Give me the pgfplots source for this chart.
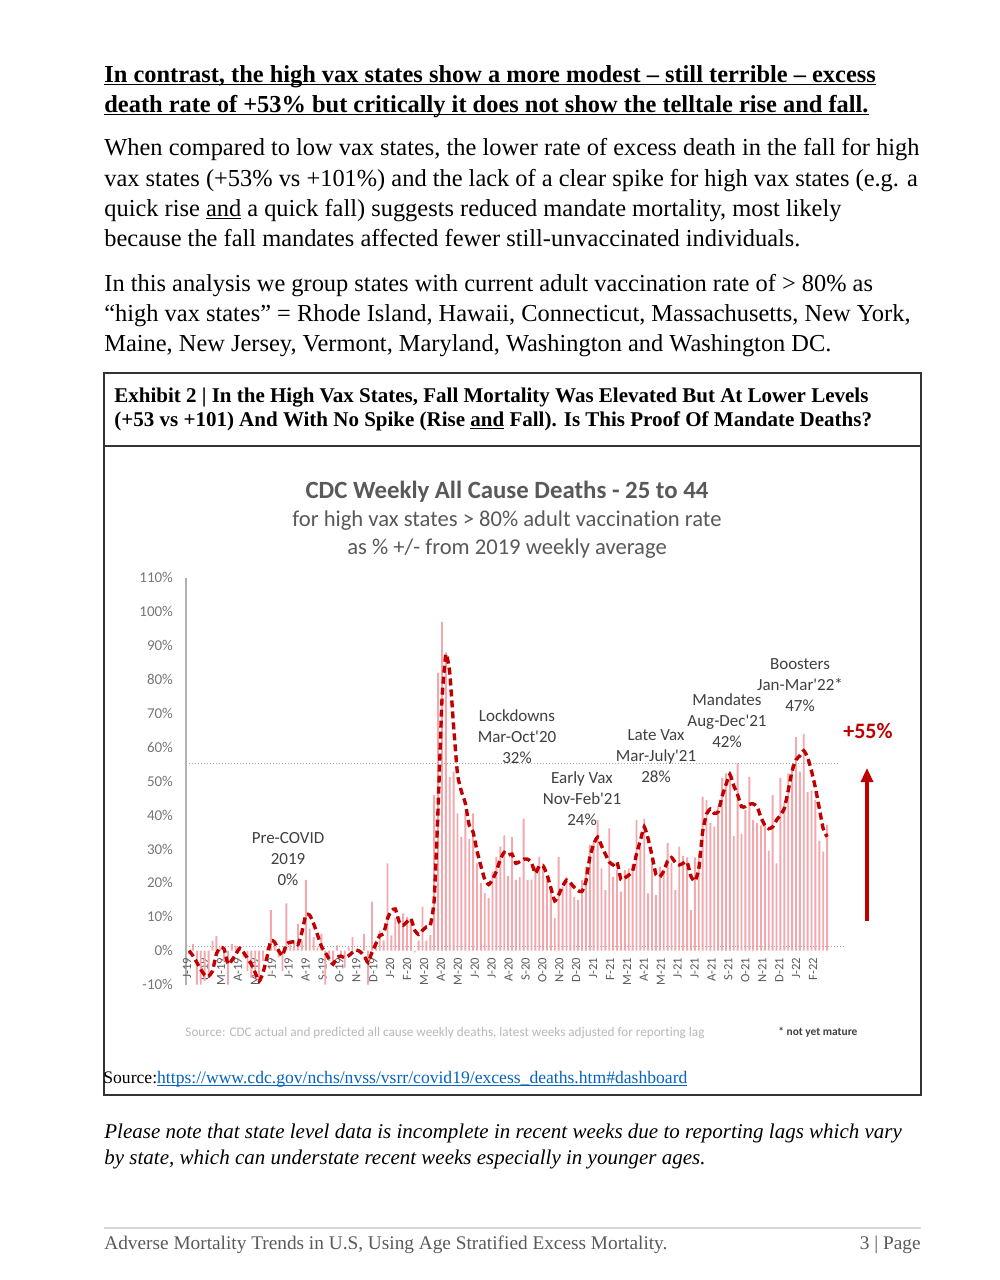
\documentclass[border=0pt]{standalone}
\usepackage{fontspec}
\setmainfont{Liberation Serif}
\newfontfamily\calib[Ligatures=CommonOff]{Carlito}
\newcommand{\uline}[1]{\begingroup\setbox0=\hbox{#1}\rlap{\rule[-0.14em]{\wd0}{0.055em}}\box0\endgroup}
\usepackage{pgfplots}
\usepackage{pgfplotstable}
\pgfplotsset{compat=1.18}
\usetikzlibrary{arrows.meta}
\definecolor{barpink}{RGB}{243,168,174}
\definecolor{darkred}{RGB}{192,0,0}
\definecolor{annot}{RGB}{64,64,64}
\definecolor{ctitle}{RGB}{89,89,89}
\definecolor{tickgray}{RGB}{118,118,118}
\definecolor{linkblue}{RGB}{5,99,193}
\definecolor{srcgray}{RGB}{185,185,185}
\definecolor{footgray}{RGB}{90,90,90}
\pgfplotstableread{
i bar ma
0 -1 0
1 2 -1.5
2 -10 -3.5
3 -10 -5.5
4 -9 -7.2
5 -8 -7.5
6 3 -6
7 4.3 -1
8 1 1
9 -3 0.5
10 -10 -4
11 2 -2.8
12 1.5 -1
13 1 0.7
14 -2 -0.5
15 -6 -2.2
16 -8 -4
17 -8 -6.5
18 -9 -9
19 -3 -6.5
20 1 -2
21 12 3
22 2 2.5
23 -2 0
24 -6 -1.5
25 14 2
26 3 2.5
27 3 2.6
28 8 1.8
29 3 5.5
30 20.9 10.5
31 6.5 10.5
32 4 8
33 1 4.7
34 5 1.3
35 -10 -0.5
36 -3 -2.5
37 -4 -4
38 1.6 -2
39 -2 -1.6
40 -5 -2.1
41 1 -1.5
42 4 -0.5
43 0.5 0.2
44 -1 -0.3
45 5 -1.5
46 -10 -3.5
47 14.5 -0.5
48 3 2
49 6 4.5
50 3 5
51 25.8 9.5
52 4.5 11.8
53 9.7 12.3
54 8.5 8.5
55 11 7.5
56 10 8.5
57 9.5 9.5
58 -0.5 6
59 3 4.8
60 13 6
61 3 7
62 4.6 7.5
63 46 15
64 82 42
65 97 74
66 88 87.5
67 51.3 82
68 52.8 66
69 40.5 52
70 33.6 47
71 40.5 43.5
72 33 37
73 40.5 35
74 25.8 29.5
75 20 25
76 17 21
77 15.5 19.5
78 23.3 21
79 27.7 23.5
80 30.7 27
81 34 29
82 22 28.2
83 33.6 28.5
84 20.9 25.8
85 21.8 26.3
86 39 27
87 20.9 27
88 21 26
89 24.8 22.8
90 27.7 25
91 25.8 25
92 21.8 22.5
93 18.9 18.5
94 9.6 14.7
95 27.7 16.5
96 18.9 19
97 21.8 20.8
98 19.9 20
99 15.9 18.7
100 15 17.7
101 20.9 17.5
102 24.8 20.5
103 31.2 27.5
104 32.2 31.5
105 38.6 33.5
106 24.3 31
107 17.9 28.5
108 36.1 26.2
109 21.8 25.3
110 23.8 26.2
111 17.4 21
112 23.8 21.5
113 24.3 22.3
114 25.3 23.5
115 38.6 28.5
116 30.7 32.5
117 39 36.5
118 16.9 33
119 26.8 28
120 16.4 22.5
121 24.8 21.8
122 24 23.5
123 31.7 26.5
124 26 27.5
125 17.9 26
126 30.7 25.3
127 27.9 25.8
128 27.5 26.2
129 12 22
130 27.5 20.5
131 28.5 24
132 45.4 35
133 44.5 40.3
134 37.6 41.8
135 36.6 40.5
136 42.5 41
137 50.9 45.5
138 52.3 49
139 51.8 52
140 33.9 48.7
141 55.3 46
142 34.5 42.5
143 41.5 42.5
144 51.3 43.2
145 38.6 43.3
146 37.6 42.5
147 37 39.3
148 37 37
149 29.5 36
150 45.9 36.5
151 25.8 38.5
152 50.9 40
153 43.5 42
154 52.3 47.2
155 54.8 53
156 63 56.3
157 52.8 57.5
158 64 59
159 46.8 57
160 47.3 53
161 44.5 48
162 32.4 42
163 29.2 36
164 37.1 33.6
}\data
\begin{document}
\begin{tikzpicture}[x=0.5pt,y=-0.5pt]
\useasboundingbox (0,0) rectangle (1000,1280);
\fill[white] (0,0) rectangle (1000,1280);
\tikzset{body/.style={anchor=base west,inner sep=0,font=\fontsize{12.2}{14}\selectfont}}
% header
\node[body,font=\fontsize{12.2}{14}\selectfont\bfseries] at (104,82) {\uline{In contrast, the high vax states show a more modest – still terrible – excess}};
\node[body,font=\fontsize{12.2}{14}\selectfont\bfseries] at (104,112) {\uline{death rate of +53\% but critically it does not show the telltale rise and fall.}};
% paragraph 2
\node[body] at (104,155) {When compared to low vax states, the lower rate of excess death in the fall for high};
\node[body] at (104,186) {vax states (+53\% vs +101\%) and the lack of a clear spike for high vax states (e.g. a};
\node[body] at (104,216) {quick rise \uline{and} a quick fall) suggests reduced mandate mortality, most likely};
\node[body] at (104,246) {because the fall mandates affected fewer still-unvaccinated individuals.};
% paragraph 3
\node[body] at (104,291) {In this analysis we group states with current adult vaccination rate of > 80\% as};
\node[body] at (104,321) {“high vax states” = Rhode Island, Hawaii, Connecticut, Massachusetts, New York,};
\node[body] at (104,351) {Maine, New Jersey, Vermont, Maryland, Washington and Washington DC.};
% exhibit box
\draw[line width=1pt,black!80] (104,373) rectangle (921,1095);
\draw[line width=0.8pt,black!80] (104,446) -- (921,446);
\node[body,font=\fontsize{10.5}{12}\selectfont\bfseries] at (114,402) {Exhibit 2 | In the High Vax States, Fall Mortality Was Elevated But At Lower Levels};
\node[body,font=\fontsize{10.5}{12}\selectfont\bfseries] at (114,426) {(+53 vs +101) And With No Spike (Rise \uline{and} Fall). Is This Proof Of Mandate Deaths?};
% chart titles
\node[font=\calib\bfseries\fontsize{12.4}{14}\selectfont,text=ctitle,inner sep=0] at (507,492) {CDC Weekly All Cause Deaths - 25 to 44};
\node[font=\calib\fontsize{11.3}{13}\selectfont,text=ctitle,inner sep=0] at (507,521) {for high vax states > 80\% adult vaccination rate};
\node[font=\calib\fontsize{11.3}{13}\selectfont,text=ctitle,inner sep=0] at (507,549) {as \% +/- from 2019 weekly average};
% axis
\begin{axis}[at={(93pt,-492.3pt)}, anchor=south west, scale only axis,
  width=329.3pt, height=203.4pt,
  xmin=-0.8, xmax=168.5, ymin=-10, ymax=110,
  axis x line=middle, axis y line=left, axis line style={-},
  x axis line style={draw=none}, y axis line style={draw=black!30,line width=0.6pt},
  hide obscured x ticks=false, clip=false,
  xtick={-0.5,3.85,8.2,12.54,16.89,21.24,25.59,29.94,34.28,38.63,42.98,47.33,51.68,56.02,60.37,64.72,69.07,73.42,77.76,82.11,86.46,90.81,95.16,99.5,103.85,108.2,112.55,116.9,121.24,125.59,129.94,134.29,138.64,142.98,147.33,151.68,156.03,160.38},
  xticklabels={J-19,F-19,M-19,A-19,M-19,J-19,J-19,A-19,S-19,O-19,N-19,D-19,J-20,F-20,M-20,A-20,M-20,J-20,J-20,A-20,S-20,O-20,N-20,D-20,J-21,F-21,M-21,A-21,M-21,J-21,J-21,A-21,S-21,O-21,N-21,D-21,J-22,F-22},
  xticklabel style={rotate=90,anchor=east,font=\calib\fontsize{6.3}{7}\selectfont,text=ctitle},
  ytick={-10,0,10,20,30,40,50,60,70,80,90,100,110},
  yticklabels={-10\%,0\%,10\%,20\%,30\%,40\%,50\%,60\%,70\%,80\%,90\%,100\%,110\%},
  yticklabel style={font=\calib\fontsize{7.5}{8}\selectfont,text=tickgray,xshift=-3pt},
  major tick length=0pt, tick style={draw=none},
]
\addplot[ybar, bar width=0.95pt, fill=barpink, draw=none] table[x=i,y=bar] {\data};
\addplot[densely dotted, black!35, line width=0.5pt] coordinates {(-0.8,55.3) (166.8,55.3)};
\addplot[densely dotted, black!35, line width=0.5pt] coordinates {(-0.8,1.2) (168.1,1.2)};
\addplot[darkred, line width=1.7pt, dash pattern=on 3.5pt off 2pt, smooth, tension=0.3] table[x=i,y=ma] {\data};
\end{axis}
% annotations
\tikzset{ann/.style={font=\calib\fontsize{8.5}{10.5}\selectfont,text=annot,align=center,inner sep=0}}
\node[ann] at (288,859) {Pre-COVID\\2019\\0\%};
\node[ann] at (517,737) {Lockdowns\\Mar-Oct'20\\32\%};
\node[ann] at (582,799) {Early Vax\\Nov-Feb'21\\24\%};
\node[ann] at (656,756) {Late Vax\\Mar-July'21\\28\%};
\node[ann] at (727,721) {Mandates\\Aug-Dec'21\\42\%};
\node[ann] at (800,685) {Boosters\\Jan-Mar'22*\\47\%};
\node[font=\calib\bfseries\fontsize{11}{13}\selectfont,text=darkred,inner sep=0] at (868,731) {+55\%};
\draw[darkred, line width=1.6pt, -{Triangle[length=7pt,width=6pt]}] (867,921) -- (867,768);
\node[font=\calib\fontsize{6.6}{8}\selectfont,text=srcgray,inner sep=0,anchor=base] at (445,1036) {Source: CDC actual and predicted all cause weekly deaths, latest weeks adjusted for reporting lag};
\node[font=\calib\bfseries\fontsize{5.7}{7}\selectfont,text=annot,inner sep=0,anchor=base west] at (778,1035) {* not yet mature};
\node[body,font=\fontsize{8.8}{11}\selectfont] at (103,1083) {Source:\textcolor{linkblue}{\uline{https://www.cdc.gov/nchs/nvss/vsrr/covid19/excess\_deaths.htm\#dashboard}}};
% note
\node[body,font=\fontsize{10.5}{13}\selectfont\itshape] at (104,1138) {Please note that state level data is incomplete in recent weeks due to reporting lags which vary};
\node[body,font=\fontsize{10.5}{13}\selectfont\itshape] at (104,1164) {by state, which can understate recent weeks especially in younger ages.};
% footer
\draw[black!15, line width=0.6pt] (104,1228) -- (921,1228);
\node[body,font=\fontsize{9.65}{12}\selectfont,text=footgray] at (104,1249) {Adverse Mortality Trends in U.S, Using Age Stratified Excess Mortality.};
\node[anchor=base east,inner sep=0,font=\fontsize{9.65}{12}\selectfont,text=footgray] at (921,1249) {3 | Page};
\end{tikzpicture}
\end{document}
